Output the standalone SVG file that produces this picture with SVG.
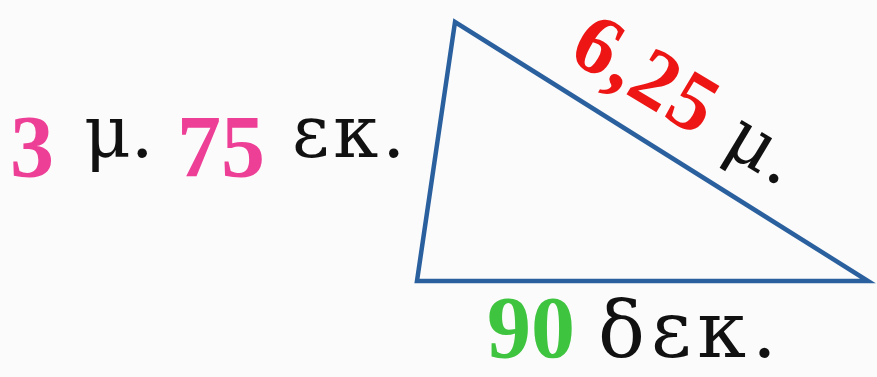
<svg xmlns="http://www.w3.org/2000/svg" width="877" height="377" viewBox="0 0 877 377">
<style>
.num{font-family:"Liberation Serif","DejaVu Serif",serif;font-weight:bold}
.gr{font-family:"DejaVu Serif","Liberation Serif",serif;fill:#111}
.pink{fill:#ee3f97}
.red{fill:#ee1515}
.green{fill:#3fc43f}
.edge{fill:none;stroke:#2b609f;stroke-width:4.5;stroke-linejoin:miter}
</style>
<rect width="877" height="377" fill="#fbfbfb"/>
<g id="triangle">
<polygon class="edge" points="455,22 417,281 868,281"/>
</g>
<g id="label-left">
<text class="num pink" x="10" y="176" font-size="88">3</text>
<text class="gr" x="84" y="157" font-size="72">μ.</text>
<text class="num pink" x="177" y="176" font-size="88">75</text>
<text class="gr" x="292" y="157" font-size="72" letter-spacing="4">εκ.</text>
</g>
<g id="label-hyp" transform="translate(566,58) rotate(31)">
<text x="0" y="0" letter-spacing="2"><tspan class="num red" font-size="84">6,25</tspan><tspan class="gr" font-size="72"> μ.</tspan></text>
</g>
<g id="label-bottom">
<text class="num green" x="487" y="357" font-size="88">90</text>
<text class="gr" x="598" y="357" font-size="78" letter-spacing="6">δεκ.</text>
</g>
</svg>
